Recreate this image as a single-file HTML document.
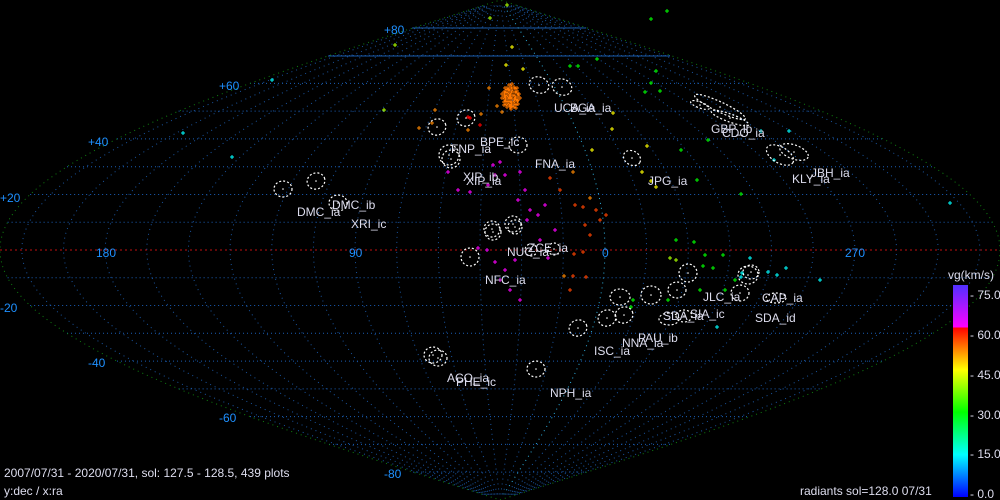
<!DOCTYPE html>
<html><head><meta charset="utf-8"><style>
html,body{margin:0;padding:0;background:#000;width:1000px;height:500px;overflow:hidden}
svg{display:block}
text{font-family:"Liberation Sans",sans-serif;font-size:12px}
</style></head><body>
<svg id="s" width="1000" height="500" xmlns="http://www.w3.org/2000/svg">
<defs><linearGradient id="cb" x1="0" y1="1" x2="0" y2="0">
<stop offset="0" stop-color="#0000ff"/><stop offset="0.2" stop-color="#00ffff"/><stop offset="0.4" stop-color="#00ff00"/><stop offset="0.6" stop-color="#ffff00"/><stop offset="0.8" stop-color="#ff0000"/><stop offset="0.8" stop-color="#ff00ff"/><stop offset="1" stop-color="#5030ff"/></linearGradient></defs>
<g id="grid"></g>
<g id="pts"></g>
<g id="ell" fill="none" stroke="#fff" stroke-dasharray="2,2" stroke-width="1.2"></g>
<g fill="#1e90ff">
<text x="384" y="34">+80</text><text x="219" y="90">+60</text><text x="88" y="146">+40</text><text x="0" y="202">+20</text>
<text x="0" y="312">-20</text><text x="88" y="367">-40</text><text x="219" y="422">-60</text><text x="384" y="478">-80</text>
<text x="96" y="257">180</text><text x="349" y="257">90</text><text x="602" y="257">0</text><text x="845" y="257">270</text>
</g>
<g fill="#dde">
<text x="297" y="216">DMC_ia</text><text x="332" y="209">DMC_ib</text><text x="351" y="228">XRI_ic</text>
<text x="451" y="153">FNP_ia</text><text x="480" y="146">BPE_ic</text><text x="463" y="181">XIP_ib</text><text x="466" y="185">XIP_ia</text>
<text x="535" y="168">FNA_ia</text><text x="554" y="112">UCA_ia</text><text x="570" y="112">BGA_ia</text>
<text x="648" y="185">JPG_ia</text><text x="711" y="133">GBP_ib</text><text x="722" y="137">CDO_ia</text>
<text x="792" y="183">KLY_ia</text><text x="811" y="177">JBH_ia</text>
<text x="507" y="256">NUC_ia</text><text x="528" y="252">ZCE_ia</text><text x="485" y="284">NFC_ia</text>
<text x="703" y="301">JLC_ia</text><text x="690" y="318">SIA_ic</text><text x="755" y="322">SDA_id</text><text x="762" y="302">CAP_ia</text>
<text x="663" y="320">SDA_ia</text><text x="638" y="342">PAU_ib</text><text x="622" y="347">NNA_ia</text><text x="594" y="355">ISC_ia</text>
<text x="447" y="382">ACO_ia</text><text x="456" y="386">PHE_ic</text><text x="550" y="397">NPH_ia</text>
<text x="4" y="477">2007/07/31 - 2020/07/31,  sol: 127.5 - 128.5, 439 plots</text>
<text x="4" y="495">y:dec / x:ra</text>
<text x="800" y="495">radiants sol=128.0 07/31</text>
<text x="948" y="279">vg(km/s)</text>
<text x="970" y="299">- 75.0</text><text x="970" y="339">- 60.0</text><text x="970" y="379">- 45.0</text><text x="970" y="419">- 30.0</text><text x="970" y="458">- 15.0</text><text x="970" y="498">- 0.0</text>
</g>
<rect x="953" y="285" width="15" height="212" fill="url(#cb)"/>
</svg>
<script>
const NS="http://www.w3.org/2000/svg";
const K=2.777,L0=37.8;
function P(ra,dec){let d=L0-ra;while(d>180)d-=360;while(d<-180)d+=360;return[500+K*d*Math.cos(dec*Math.PI/180),250-K*dec];}
function el(p,t,a){const e=document.createElementNS(NS,t);for(const k in a)e.setAttribute(k,a[k]);p.appendChild(e);return e;}
const g=document.getElementById('grid');
for(let dec=-80;dec<=80;dec+=10){if(dec==0)continue;const y=250-K*dec,hw=500*Math.cos(dec*Math.PI/180);
 el(g,'line',{x1:500-hw,y1:y,x2:500+hw,y2:y,stroke:'#1a5fb8','stroke-dasharray':'1,3'});}
el(g,'line',{x1:412,y1:28,x2:586,y2:28,stroke:'#1a5aa8'});
el(g,'line',{x1:328,y1:56,x2:670,y2:56,stroke:'#1a5aa8'});
el(g,'line',{x1:0,y1:250,x2:1000,y2:250,stroke:'#c01010','stroke-dasharray':'2,3'});
for(let ra=0;ra<360;ra+=15){let d='';let prev=null;for(let dec=-88;dec<=88;dec+=2){const[x,y]=P(ra,dec);
 if(prev!==null&&Math.abs(x-prev)>300){d+='M';}else d+=(d?'L':'M');d+=x.toFixed(1)+','+y.toFixed(1);prev=x;}
 el(g,'path',{d:d,fill:'none',stroke:ra==0?'#30b0e0':'#1a55a0','stroke-dasharray':'1,4'});}
let od='';for(let dec=-90;dec<=90;dec+=1){const y=250-K*dec,hw=500*Math.cos(dec*Math.PI/180);od+=(od?'L':'M')+(500+hw)+','+y;}
for(let dec=90;dec>=-90;dec-=1){const y=250-K*dec,hw=500*Math.cos(dec*Math.PI/180);od+='L'+(500-hw)+','+y;}
el(g,'path',{d:od,fill:'none',stroke:'#108010','stroke-dasharray':'1,4'});
const pg=document.getElementById('pts');
function pt(x,y,c){el(pg,'path',{d:`M${x-2},${y}h4M${x},${y-2}v4`,stroke:c,'stroke-width':1});}
const pts=[[272,80,'#0ff'],[183,133,'#0ff'],[232,157,'#0ff'],[395,45,'#af0'],[384,110,'#af0'],[490,18,'#af0'],[507,5,'#af0'],[512,47,'#ff0'],[523,69,'#ff0'],[506,65,'#ff0'],
[597,59,'#0f0'],[570,66,'#0f0'],[578,66,'#0f0'],[656,71,'#0f0'],[651,83,'#0f0'],[660,91,'#0f0'],[645,92,'#0f0'],[651,19,'#0f0'],[667,11,'#0f0'],
[432,123,'#f80'],[435,110,'#f80'],[419,128,'#f80'],[489,88,'#f80'],[497,106,'#f80'],[502,112,'#f80'],[481,114,'#f80'],[468,130,'#f80'],[480,125,'#f00'],[468,117,'#f00'],[470,118,'#f00'],
[613,113,'#ff0'],[612,129,'#ff0'],[592,150,'#ff0'],[647,146,'#ff0'],[656,187,'#ff0'],[642,172,'#ff0'],[651,181,'#ff0'],[681,150,'#0f0'],[697,180,'#0f0'],[741,194,'#0f0'],[708,140,'#0f0'],
[761,131,'#0ff'],[789,131,'#0ff'],[774,160,'#0ff'],[950,203,'#0ff'],[590,198,'#f80'],[583,207,'#f40'],[596,210,'#f40'],[606,215,'#f40'],[600,220,'#f40'],[590,235,'#f40'],[585,225,'#f40'],
[573,172,'#f80'],[560,190,'#f40'],[575,205,'#f40'],[550,178,'#f40'],[583,252,'#f40'],[574,254,'#f40'],[586,277,'#f40'],[573,276,'#f40'],[564,276,'#f80'],[570,290,'#f40'],
[493,165,'#f0f'],[500,162,'#f0f'],[520,172,'#f0f'],[505,175,'#f0f'],[525,190,'#f0f'],[518,200,'#f0f'],[530,210,'#f0f'],[538,215,'#f0f'],[527,220,'#f0f'],[545,205,'#f0f'],[555,230,'#f0f'],[488,185,'#f0f'],[470,192,'#f0f'],[458,190,'#f0f'],[495,175,'#f0f'],[448,172,'#f0f'],
[505,270,'#f0f'],[510,290,'#f0f'],[500,280,'#f0f'],[515,260,'#f0f'],[495,262,'#f0f'],[520,300,'#f0f'],[487,250,'#f0f'],[478,248,'#f0f'],[540,240,'#f0f'],[548,258,'#f0f'],
[676,240,'#0f0'],[694,242,'#0f0'],[676,260,'#af0'],[670,258,'#af0'],[705,255,'#0f0'],[703,266,'#0f0'],[713,268,'#0f0'],[723,255,'#0f0'],[735,280,'#0f0'],[725,290,'#0f0'],[633,300,'#0f0'],[631,307,'#0f0'],[668,300,'#0f0'],[700,290,'#0f0'],
[750,258,'#0ff'],[768,272,'#0ff'],[786,268,'#0ff'],[777,275,'#0ff'],[717,327,'#0ff'],[820,280,'#0ff'],[742,273,'#0ff'],[741,277,'#0ff']];
pts.forEach(p=>pt(p[0],p[1],p[2]));
for(let i=0;i<60;i++){const a=i*2.4,r=Math.sqrt(i)*1.2;pt(Math.round(511+r*Math.cos(a)),Math.round(97+r*Math.sin(a)*1.4),'#f70');}
const eg=document.getElementById('ell');
const E=[[283,189,9,8,0],[316,181,9,8,-20],[338,203,9,8,0],[437,127,9,8,-20],[466,118,9,8,-20],[449,155,10,10,0],[451,159,9,9,0],[518,145,9,8,0],
[539,85,10,8,20],[562,87,10,8,20],[632,158,9,7,30],[720,107,28,5,25],[730,118,20,4,20],[780,155,15,8,30],[794,152,15,7,20],
[492,229,8,8,0],[513,224,8,8,0],[515,227,7,7,0],[493,232,8,8,0],[470,257,9,9,0],[531,250,6,6,0],[554,249,6,6,0],[578,328,9,8,-20],[607,318,9,8,-20],[624,315,9,8,-20],
[620,297,10,8,0],[651,295,10,9,0],[677,290,9,8,0],[688,273,9,9,0],[748,275,10,9,0],[751,272,8,7,0],[740,293,9,8,0],[776,298,10,5,0],[669,319,10,6,0],[684,316,8,6,0],
[433,355,9,8,0],[438,358,9,8,0],[536,369,9,8,0],[700,105,10,3,20]];
E.forEach(e=>{el(eg,'ellipse',{cx:e[0],cy:e[1],rx:e[2],ry:e[3],transform:`rotate(${e[4]} ${e[0]} ${e[1]})`});el(eg,'circle',{cx:e[0],cy:e[1],r:0.8,fill:'#fff',stroke:'none'});});
</script>
</body></html>
